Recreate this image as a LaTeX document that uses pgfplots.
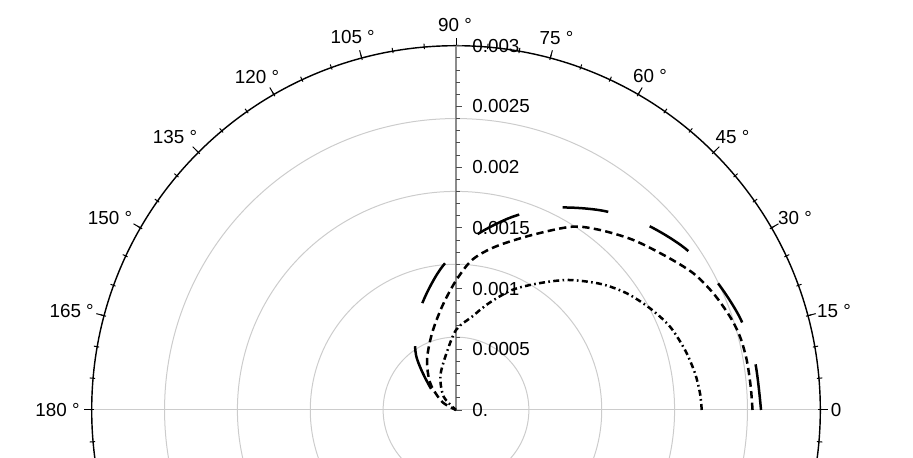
\documentclass[border=0pt]{standalone}
\usepackage{fontspec}
\setmainfont{Liberation Sans}
\usepackage{pgfplots}
\pgfplotsset{compat=1.18}

\definecolor{gridgray}{gray}{0.8}
\definecolor{axgray}{gray}{0.55}
\definecolor{tickgray}{gray}{0.3}

% 1 px of the reference = 0.6pt; outer circle (r = 0.003) = 218.58pt
\begin{document}
\begin{tikzpicture}[font=\fontsize{11.3}{13}\selectfont]
\useasboundingbox (0,0) rectangle (547.8pt,274.8pt);

\begin{scope}
  \clip (0,0) rectangle (547.8pt,274.8pt);
  \begin{scope}[shift={(273.6pt,28.8pt)}]
    % grid circles every 0.0006
    \foreach \r in {43.716,87.432,131.148,174.864}
      \draw[gridgray, line width=0.6pt] (0,0) circle[radius=\r pt];
    \draw[gridgray, line width=0.6pt] (-218.58pt,0) -- (218.58pt,0);
    % outer circle with angle ticks
    \draw[line width=0.85pt] (0,0) circle[radius=218.58pt];
    \foreach \a in {0,5,...,355}
      \draw[line width=0.6pt] (\a:217.4pt) -- (\a:220.6pt);
    \foreach \a in {0,15,...,345}
      \draw[line width=0.6pt] (\a:218.58pt) -- (\a:223.4pt);
    % radial axis along 90 degrees
    \draw[axgray, line width=0.7pt] (0,0) -- (0,218.58pt);
    \foreach \i in {0,...,30}
      \draw[tickgray, line width=0.5pt] (0,\i*7.286pt) -- ++(2.4pt,0);
    \foreach \i in {0,...,6}
      \draw[tickgray, line width=0.5pt] (0,\i*36.43pt) -- ++(3.6pt,0);
    \foreach \i/\t in {0/0., 1/0.0005, 2/0.001, 3/0.0015, 4/0.002, 5/0.0025, 6/0.003}
      \node[anchor=west, inner sep=0pt] at (9.6pt,\i*36.43pt) {\t};
    % angle labels
    \foreach \x/\y/\t in {228/0/0, 226.8/59.58/15\ °, 203.4/115.38/30\ °,
        165.9/163.8/45\ °, 116.4/200.4/60\ °, 60.3/223.2/75\ °,
        -0.6/231/90\ °, -61.98/223.98/105\ °, -119.4/199.98/120\ °,
        -168.6/163.8/135\ °, -207.6/115.38/150\ °, -230.58/59.58/165\ °,
        -239.1/0/180\ °}
      \node[inner sep=0pt] at (\x pt,\y pt) {\t};
  \end{scope}
\end{scope}

\begin{axis}[
    at={(0,0)}, anchor=south west,
    scale only axis, width=547.8pt, height=274.8pt,
    xmin=-0.00375515, xmax=0.00376338,
    ymin=-0.000395279, ymax=0.00337634,
    hide axis,
  ]

  % long dashes
  \addplot[black, line width=1.5pt, smooth,
      dash pattern=on 27.6pt off 26.4pt] coordinates {
      (0.0025117,0) (0.0024623,0.00039775) (0.0023445,0.00074691)
      (0.0021411,0.0010648) (0.0018858,0.0013316) (0.0015564,0.0015317)
      (0.0012081,0.0016412) (0.0008235,0.0016659) (0.00046692,0.0015918)
      (0.000126,0.001414) (-0.00012929,0.0011587) (-0.00030222,0.0008095)
      (-0.0003294,0.00045293) (-0.00015647,0.00009635) (0,0)
    };

  % short dashes
  \addplot[black, line width=1.5pt, smooth,
      dash pattern=on 4.4pt off 2.6pt] coordinates {
      (0.0024417,0) (0.0024268,0.0001919) (0.0023939,0.00041175)
      (0.0023387,0.0006036) (0.0022564,0.0007683) (0.0021189,0.000961)
      (0.0019542,0.0011257) (0.0017351,0.0012624) (0.00146,0.0014)
      (0.0011858,0.0014823) (0.00095526,0.0015095) (0.00062586,0.0014411)
      (0.00032364,0.0013448) (0.00013176,0.0012353) (-0.0000058,0.0010566)
      (-0.00011529,0.00085068) (-0.00019764,0.00063162) (-0.00023882,0.00041175)
      (-0.00021164,0.00021987) (-0.0001153,0.0000684) (0,0)
    };

  % dash-dot
  \addplot[black, line width=1.5pt, smooth,
      dash pattern=on 3.6pt off 2pt on 1pt off 2pt] coordinates {
      (0.0020234,0) (0.0020093,0.00013752) (0.0019682,0.00030222)
      (0.0018858,0.0004941) (0.0017623,0.00068598) (0.0015976,0.0008375)
      (0.0014057,0.000961) (0.0011941,0.0010376) (0.00092808,0.0010706)
      (0.00068103,0.0010434) (0.00046116,0.0009882) (0.00026928,0.00087867)
      (0.00013176,0.00076833) (0,0.0006588) (-0.000088115,0.00043893)
      (-0.00012929,0.00027423) (-0.00010129,0.00010953) (0,0)
    };
\end{axis}
\end{tikzpicture}
\end{document}
